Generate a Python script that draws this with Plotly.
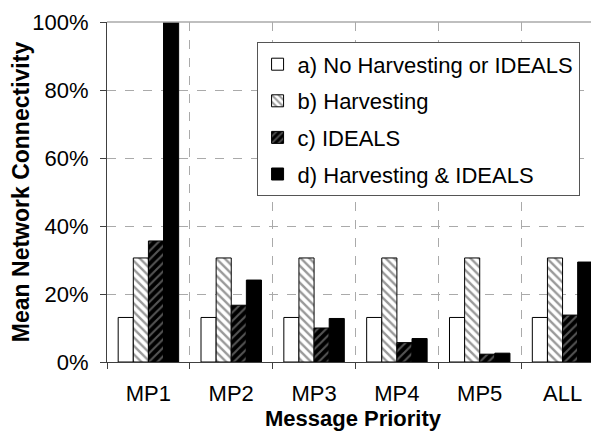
import plotly.graph_objects as go

categories = ["MP1", "MP2", "MP3", "MP4", "MP5", "ALL"]
series_names = ["a) No Harvesting or IDEALS", "b) Harvesting", "c) IDEALS", "d) Harvesting & IDEALS"]
a_vals = [0.131, 0.131, 0.131, 0.131, 0.131, 0.131]
b_vals = [0.306, 0.306, 0.306, 0.306, 0.306, 0.306]
c_vals = [0.356, 0.167, 0.100, 0.057, 0.023, 0.138]
d_vals = [1.000, 0.241, 0.128, 0.069, 0.026, 0.294]

FONT = "Liberation Sans, Arial, sans-serif"

fig = go.Figure()
fig.add_trace(go.Bar(x=categories, y=a_vals, name=series_names[0],
                     marker=dict(color="white", line=dict(color="black", width=1))))
fig.add_trace(go.Bar(x=categories, y=b_vals, name=series_names[1],
                     marker=dict(color="white", line=dict(color="black", width=1),
                                 pattern=dict(shape="\\", fgcolor="#333333", bgcolor="white",
                                              size=6, solidity=0.4, fillmode="overlay"))))
fig.add_trace(go.Bar(x=categories, y=c_vals, name=series_names[2],
                     marker=dict(color="black", line=dict(color="black", width=1),
                                 pattern=dict(shape="/", fgcolor="#aaaaaa", bgcolor="black",
                                              size=6, solidity=0.35, fillmode="overlay"))))
fig.add_trace(go.Bar(x=categories, y=d_vals, name=series_names[3],
                     marker=dict(color="black", line=dict(color="black", width=1))))

for i, tr in enumerate(fig.data):
    tr.legendgroup = str(i)

# page body has an 8px margin, so the figure is offset by (8, 8)
fig.update_layout(
    width=591, height=426,
    margin=dict(l=99, r=0, t=14, b=72, autoexpand=False),
    plot_bgcolor="white", paper_bgcolor="white",
    barmode="group", bargap=0.27, bargroupgap=0,
    font=dict(family=FONT, size=22, color="black"),
    showlegend=True,
    legend=dict(x=0.304, y=0.94, xanchor="left", yanchor="top",
                bgcolor="white", bordercolor="#555555", borderwidth=1,
                font=dict(family=FONT, size=22, color="black"),
                tracegroupgap=5, traceorder="grouped"),
    xaxis=dict(range=[-0.5, 5.44], tickson="boundaries", ticks="outside", ticklen=6,
               tickcolor="#404040", showline=True, linecolor="#404040", linewidth=1,
               showgrid=True, gridcolor="#aaaaaa", griddash="dash", gridwidth=1,
               ticklabelstandoff=12, automargin=False,
               title=dict(text="<b>Message Priority</b>", font=dict(family=FONT, size=22),
                          standoff=0)),
    yaxis=dict(range=[0, 1], tickformat=".0%", dtick=0.2, ticks="outside", ticklen=6,
               tickcolor="#404040", showline=True, linecolor="#404040", linewidth=1,
               showgrid=True, gridcolor="#aaaaaa", griddash="dash", gridwidth=1,
               zeroline=False, ticklabelstandoff=7, automargin=False,
               title=dict(text="<b>Mean Network Connectivity</b>", font=dict(family=FONT, size=23),
                          standoff=0)),
)
fig.add_shape(type="line", xref="x domain", yref="y domain", x0=0, x1=1, y0=1, y1=1,
              line=dict(color="#aaaaaa", width=1.5))

fig.write_html("out.html")
